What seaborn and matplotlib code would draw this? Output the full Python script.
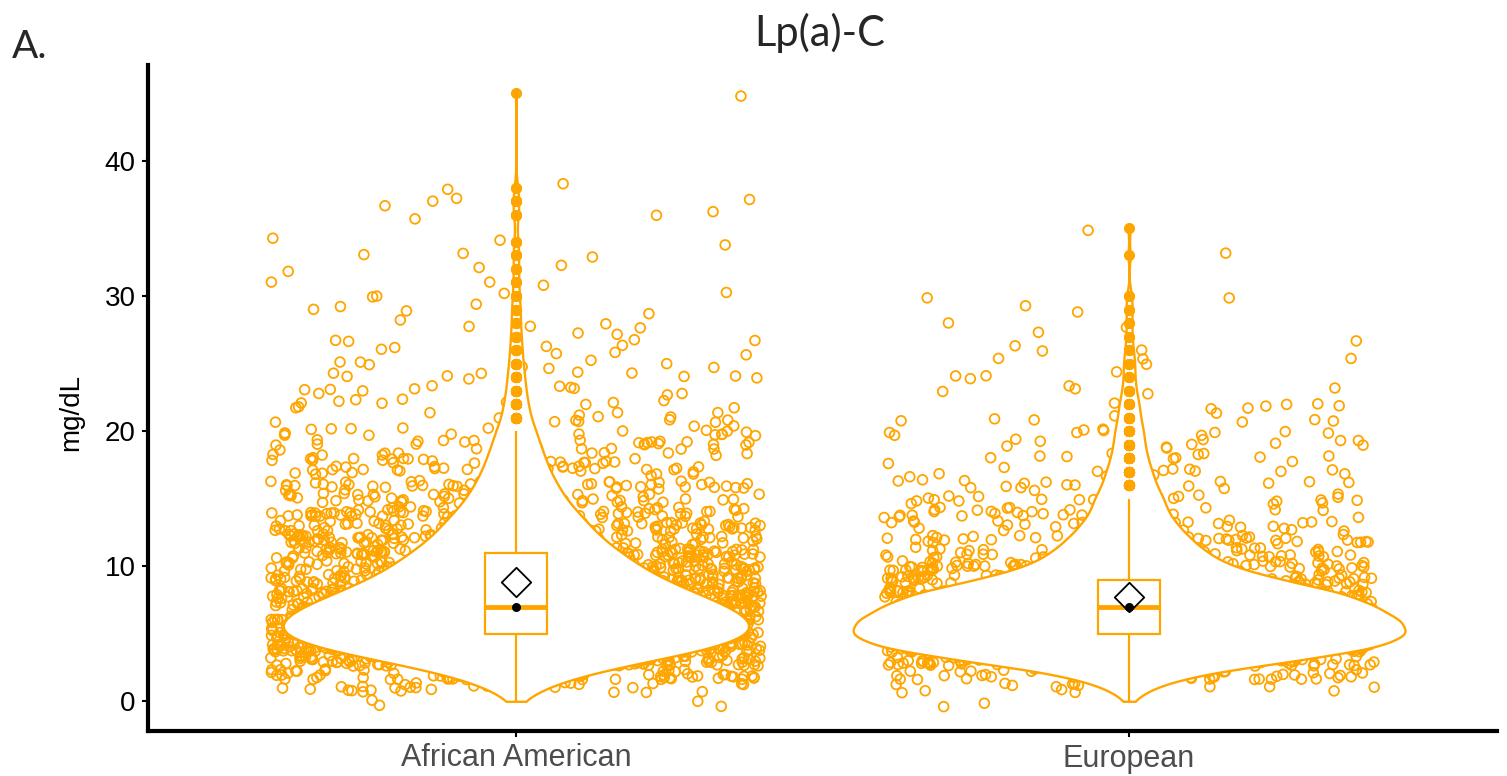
import numpy as np
import pandas as pd
import matplotlib
matplotlib.use("Agg")
import matplotlib.pyplot as plt
import seaborn as sns

# Lp(a)-C (mg/dL), integer readings tallied per value for each ancestry group
groups = ["African American", "European"]
values = list(range(0, 46))
aa_counts = [4, 30, 74, 150, 230, 267, 264, 239, 201, 165,
             138, 118, 96, 83, 69, 55, 47, 38, 33, 27,
             23, 16, 14, 11, 10, 8, 7, 6, 5, 5,
             4, 3, 3, 3, 3, 0, 3, 4, 2, 0,
             0, 0, 0, 0, 0, 1]
eu_counts = [2, 16, 48, 115, 175, 194, 188, 171, 150, 105,
             70, 54, 43, 34, 27, 24, 19, 16, 13, 11,
             10, 8, 7, 5, 4, 4, 3, 2, 2, 2,
             2, 0, 0, 1, 0, 1, 0, 0, 0, 0,
             0, 0, 0, 0, 0, 0]

title = "Lp(a)-C"
panel_tag = "A."
y_label = "mg/dL"
y_ticks = [0, 10, 20, 30, 40]

ORANGE = "#FFA500"

df = pd.DataFrame({
    "group": np.repeat(groups, [sum(aa_counts), sum(eu_counts)]),
    "value": np.concatenate([np.repeat(values, aa_counts),
                             np.repeat(values, eu_counts)]).astype(float),
})

# vertical jitter of the raw points (height 0.4), horizontal jitter comes from stripplot
rng = np.random.default_rng(11)
df["shown"] = df["value"] + rng.uniform(-0.4, 0.4, len(df))
np.random.seed(5)


def nrd0(kde):
    """Silverman's rule of thumb bandwidth, returned as a factor of the sd."""
    data = np.asarray(kde.dataset).ravel()
    sd = data.std(ddof=1)
    q75, q25 = np.percentile(data, [75, 25])
    h = 0.9 * min(sd, (q75 - q25) / 1.34) * len(data) ** -0.2
    return h / sd


sns.set_style("white")
plt.rcParams["font.family"] = ["Liberation Sans", "DejaVu Sans"]

fig = plt.figure(figsize=(15.07, 7.76), dpi=100)
ax = fig.add_axes([148 / 1507, 45 / 776, (1497 - 148) / 1507, (731 - 65) / 776])

# jittered raw observations
sns.stripplot(data=df, x="group", y="shown", order=groups, jitter=0.4,
              size=7, color=ORANGE, facecolor="none", edgecolor=ORANGE,
              linewidth=1.3, ax=ax, zorder=1)

# white violins laid over the points
sns.violinplot(data=df, x="group", y="value", order=groups, cut=0,
               inner=None, color="white", linecolor=ORANGE, linewidth=1.7,
               density_norm="area", width=0.9, bw_method=nrd0,
               gridsize=400, saturation=1, ax=ax)

# narrow box plots with filled outliers
sns.boxplot(data=df, x="group", y="value", order=groups, width=0.1,
            color="white", linecolor=ORANGE, linewidth=1.6, saturation=1,
            fliersize=7, showcaps=False,
            flierprops=dict(marker="o", markerfacecolor=ORANGE,
                            markeredgecolor=ORANGE),
            medianprops=dict(color=ORANGE, linewidth=3.5), ax=ax)

# mean (diamond) and median (dot)
stats = df.groupby("group", sort=False)["value"].agg(["mean", "median"]).reset_index()
sns.stripplot(data=stats, x="group", y="mean", order=groups, jitter=False,
              marker="D", size=15, color="white", facecolor="white",
              edgecolor="black", linewidth=1.3, ax=ax, zorder=6)
sns.stripplot(data=stats, x="group", y="median", order=groups, jitter=False,
              size=6.5, color="black", linewidth=0, ax=ax, zorder=7)

ax.set_xlim(-0.6, 1.6)
ax.set_ylim(-2.2, 47.1)
ax.set_yticks(y_ticks)
ax.set_yticklabels([str(t) for t in y_ticks], fontsize=20, color="black")
ax.set_xticks(range(len(groups)))
ax.set_xticklabels(groups, fontsize=22, color="#4D4D4D")
ax.set_xlabel("")
ax.set_ylabel(y_label, fontsize=20, color="black")
ax.yaxis.set_label_coords(-0.047, 0.478)

for side in ("top", "right"):
    ax.spines[side].set_visible(False)
for side in ("left", "bottom"):
    ax.spines[side].set_linewidth(3)
    ax.spines[side].set_color("black")
ax.tick_params(axis="both", direction="out", length=4, width=1.5,
               color="black", pad=5, left=True, bottom=True)
ax.grid(False)

fig.text(820 / 1507, 1 - 33 / 776, title, ha="center", va="center",
         fontsize=30, family=["Lato", "DejaVu Sans"])
fig.text(12 / 1507, 1 - 47 / 776, panel_tag, ha="left", va="center",
         fontsize=28, family=["Lato", "DejaVu Sans"])

fig.savefig("out.png", dpi=100, facecolor="white")
